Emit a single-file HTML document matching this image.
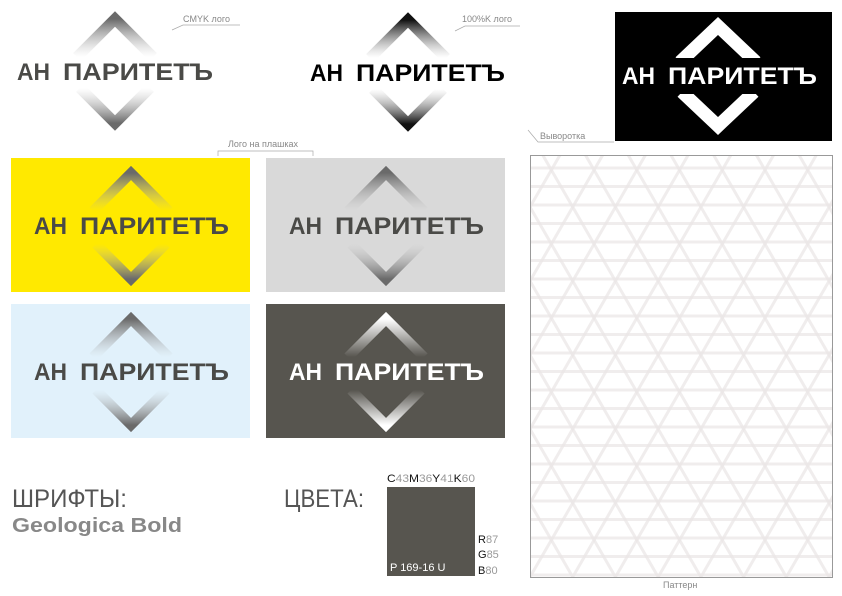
<!DOCTYPE html>
<html><head><meta charset="utf-8"><style>
html,body{margin:0;padding:0;background:#fff;width:842px;height:596px;overflow:hidden}
svg{display:block}
text{font-family:"Liberation Sans",sans-serif}
</style></head><body>
<svg width="842" height="596" viewBox="0 0 842 596" xmlns="http://www.w3.org/2000/svg">
<defs>
<linearGradient id="gt" x1="0" y1="0" x2="0" y2="1"><stop offset="0" stop-color="#6a6a6a"/><stop offset="1" stop-color="#bbb" stop-opacity="0"/></linearGradient>
<linearGradient id="gb" x1="0" y1="1" x2="0" y2="0"><stop offset="0" stop-color="#6a6a6a"/><stop offset="1" stop-color="#bbb" stop-opacity="0"/></linearGradient>
<linearGradient id="kt" x1="0" y1="0" x2="0" y2="1"><stop offset="0" stop-color="#111"/><stop offset="1" stop-color="#999" stop-opacity="0"/></linearGradient>
<linearGradient id="kb" x1="0" y1="1" x2="0" y2="0"><stop offset="0" stop-color="#111"/><stop offset="1" stop-color="#999" stop-opacity="0"/></linearGradient>
<linearGradient id="wt" x1="0" y1="0" x2="0" y2="1"><stop offset="0" stop-color="#fff"/><stop offset="1" stop-color="#fff" stop-opacity="0"/></linearGradient>
<linearGradient id="wb" x1="0" y1="1" x2="0" y2="0"><stop offset="0" stop-color="#fff"/><stop offset="1" stop-color="#fff" stop-opacity="0"/></linearGradient>
<pattern id="p0" width="40" height="18.5" patternUnits="userSpaceOnUse"><rect y="0" width="40" height="3" fill="#ebe7e7" fill-opacity="0.75"/></pattern>
<pattern id="p1" width="40" height="37" patternUnits="userSpaceOnUse" patternTransform="rotate(60 530 166)"><rect y="0" width="40" height="3" fill="#ebe7e7" fill-opacity="0.75"/></pattern>
<pattern id="p2" width="40" height="37" patternUnits="userSpaceOnUse" patternTransform="rotate(-60 530 166)"><rect y="0" width="40" height="3" fill="#ebe7e7" fill-opacity="0.75"/></pattern>
</defs>

<!-- Logo 1 -->
<path d="M77,57 L115,19 L153,57" fill="none" stroke="url(#gt)" stroke-width="11"/>
<path d="M80,88 L115,123 L150,88" fill="none" stroke="url(#gb)" stroke-width="11"/>
<text x="17" y="80" font-size="24" font-weight="bold" fill="#4a4a47" textLength="33" lengthAdjust="spacingAndGlyphs">АН</text>
<text x="63" y="80" font-size="24" font-weight="bold" fill="#4a4a47" textLength="150" lengthAdjust="spacingAndGlyphs">ПАРИТЕТЪ</text>
<text x="183" y="22" font-size="9" fill="#888">CMYK лого</text>
<path d="M172,30 L183,25 L240,25" fill="none" stroke="#aaa" stroke-width="0.7"/>

<!-- Logo 2 -->
<path d="M370,58 L408,20 L446,58" fill="none" stroke="url(#kt)" stroke-width="11"/>
<path d="M373,89 L408,124 L443,89" fill="none" stroke="url(#kb)" stroke-width="11"/>
<text x="310" y="81" font-size="24" font-weight="bold" fill="#000" textLength="33" lengthAdjust="spacingAndGlyphs">АН</text>
<text x="356" y="81" font-size="24" font-weight="bold" fill="#000" textLength="149" lengthAdjust="spacingAndGlyphs">ПАРИТЕТЪ</text>
<text x="462" y="22" font-size="9" fill="#888">100%K лого</text>
<path d="M455,31 L465,26 L520,26" fill="none" stroke="#aaa" stroke-width="0.7"/>

<!-- Logo 3 -->
<rect x="615" y="12" width="217" height="129" fill="#000"/>
<path d="M680,62 L718,26 L756,62" fill="none" stroke="#fff" stroke-width="13"/>
<path d="M682,92 L718,126 L754,92" fill="none" stroke="#fff" stroke-width="13"/>
<rect x="660" y="58" width="120" height="10" fill="#000"/>
<rect x="660" y="86" width="120" height="8" fill="#000"/>
<text x="622" y="84" font-size="24" font-weight="bold" fill="#fff" textLength="33" lengthAdjust="spacingAndGlyphs">АН</text>
<text x="668" y="84" font-size="24" font-weight="bold" fill="#fff" textLength="149" lengthAdjust="spacingAndGlyphs">ПАРИТЕТЪ</text>
<text x="540" y="139" font-size="9" fill="#888">Выворотка</text>
<path d="M528,130 L538,142 L614,142" fill="none" stroke="#aaa" stroke-width="0.7"/>

<!-- label plashki -->
<text x="228" y="147" font-size="9" fill="#888">Лого на плашках</text>
<path d="M218,156 L218,151 L313,151 L313,156" fill="none" stroke="#aaa" stroke-width="0.7"/>

<!-- panels -->
<rect x="11" y="158" width="239" height="134" fill="#ffe900"/>
<rect x="266" y="158" width="239" height="134" fill="#d9d9d9"/>
<rect x="11" y="304" width="239" height="134" fill="#e1f1fb"/>
<rect x="266" y="304" width="239" height="134" fill="#57554f"/>

<g>
<path d="M93,211 L131,173 L169,211" fill="none" stroke="url(#gt)" stroke-width="10"/>
<path d="M96,244 L131,279 L166,244" fill="none" stroke="url(#gb)" stroke-width="10"/>
<text x="34" y="234" font-size="24" font-weight="bold" fill="#4a4a47" textLength="33" lengthAdjust="spacingAndGlyphs">АН</text>
<text x="80" y="234" font-size="24" font-weight="bold" fill="#4a4a47" textLength="149" lengthAdjust="spacingAndGlyphs">ПАРИТЕТЪ</text>
</g>
<g transform="translate(255,0)">
<path d="M93,211 L131,173 L169,211" fill="none" stroke="url(#gt)" stroke-width="10"/>
<path d="M96,244 L131,279 L166,244" fill="none" stroke="url(#gb)" stroke-width="10"/>
<text x="34" y="234" font-size="24" font-weight="bold" fill="#4a4a47" textLength="33" lengthAdjust="spacingAndGlyphs">АН</text>
<text x="80" y="234" font-size="24" font-weight="bold" fill="#4a4a47" textLength="149" lengthAdjust="spacingAndGlyphs">ПАРИТЕТЪ</text>
</g>
<g transform="translate(0,146)">
<path d="M93,211 L131,173 L169,211" fill="none" stroke="url(#gt)" stroke-width="10"/>
<path d="M96,244 L131,279 L166,244" fill="none" stroke="url(#gb)" stroke-width="10"/>
<text x="34" y="234" font-size="24" font-weight="bold" fill="#4a4a47" textLength="33" lengthAdjust="spacingAndGlyphs">АН</text>
<text x="80" y="234" font-size="24" font-weight="bold" fill="#4a4a47" textLength="149" lengthAdjust="spacingAndGlyphs">ПАРИТЕТЪ</text>
</g>
<g transform="translate(255,146)">
<path d="M93,211 L131,173 L169,211" fill="none" stroke="url(#wt)" stroke-width="10"/>
<path d="M96,244 L131,279 L166,244" fill="none" stroke="url(#wb)" stroke-width="10"/>
<text x="34" y="234" font-size="24" font-weight="bold" fill="#fff" textLength="33" lengthAdjust="spacingAndGlyphs">АН</text>
<text x="80" y="234" font-size="24" font-weight="bold" fill="#fff" textLength="149" lengthAdjust="spacingAndGlyphs">ПАРИТЕТЪ</text>
</g>

<!-- pattern -->
<rect x="530" y="155" width="303" height="423" fill="#fff"/>
<rect x="530" y="155" width="303" height="423" fill="url(#p0)"/>
<rect x="530" y="155" width="303" height="423" fill="url(#p1)"/>
<rect x="530" y="155" width="303" height="423" fill="url(#p2)"/>
<rect x="530.5" y="155.5" width="302" height="422" fill="none" stroke="#999" stroke-width="1"/>
<text x="663" y="588" font-size="9" fill="#888">Паттерн</text>

<!-- fonts -->
<text x="12" y="507" font-size="25" fill="#555" textLength="115" lengthAdjust="spacingAndGlyphs">ШРИФТЫ:</text>
<text x="12" y="532" font-size="20" font-weight="bold" fill="#888" textLength="170" lengthAdjust="spacingAndGlyphs">Geologica Bold</text>

<!-- colors -->
<text x="284" y="507" font-size="25" fill="#555" textLength="80" lengthAdjust="spacingAndGlyphs">ЦВЕТА:</text>
<text x="387" y="482" font-size="11" fill="#999" textLength="88" lengthAdjust="spacingAndGlyphs"><tspan fill="#111">C</tspan>43<tspan fill="#111">M</tspan>36<tspan fill="#111">Y</tspan>41<tspan fill="#111">K</tspan>60</text>
<rect x="387" y="487" width="88" height="89" fill="#57554f"/>
<text x="390" y="571" font-size="11" fill="#fff">P 169-16 U</text>
<text x="478" y="543" font-size="11" fill="#999"><tspan fill="#111">R</tspan>87</text>
<text x="478" y="558" font-size="11" fill="#999"><tspan fill="#111">G</tspan>85</text>
<text x="478" y="574" font-size="11" fill="#999"><tspan fill="#111">B</tspan>80</text>
</svg>
</body></html>
